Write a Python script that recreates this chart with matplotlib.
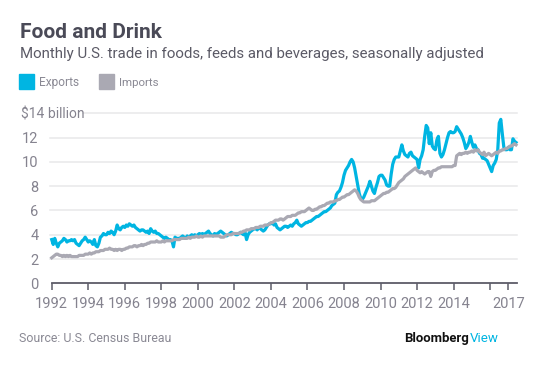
import numpy as np
import matplotlib
matplotlib.use("Agg")
import matplotlib.pyplot as plt

# ---------------- data (monthly, Jan 1992 - Jun 2017, $ billion) ----------------
start_year = 1992
exports = [
    3.6, 3.2, 3.7, 3.3, 3.0, 3.3, 3.4, 3.5, 3.7, 3.6, 3.4, 3.5,   # 1992
    3.5, 3.6, 3.5, 3.6, 3.3, 3.2, 3.1, 3.3, 3.5, 3.6, 3.8, 3.6,   # 1993
    3.4, 3.5, 3.4, 3.2, 3.6, 3.1, 3.0, 3.3, 3.8, 3.9, 4.1, 4.0,   # 1994
    4.0, 4.2, 4.1, 4.3, 4.2, 4.0, 4.3, 4.8, 4.5, 4.4, 4.6, 4.7,   # 1995
    4.6, 4.8, 4.7, 4.9, 4.8, 4.7, 4.8, 4.6, 4.5, 4.4, 4.3, 4.4,   # 1996
    4.4, 4.3, 4.2, 4.3, 4.1, 4.5, 4.3, 4.2, 4.3, 4.1, 4.1, 4.0,   # 1997
    3.9, 3.8, 3.7, 3.8, 3.7, 3.6, 3.6, 3.5, 3.0, 3.8, 3.7, 3.7,   # 1998
    3.7, 3.8, 3.9, 3.8, 3.7, 3.9, 3.8, 3.9, 4.0, 3.9, 4.0, 3.9,   # 1999
    4.0, 4.1, 4.0, 4.1, 4.0, 4.1, 4.2, 4.3, 4.1, 4.0, 3.9, 4.1,   # 2000
    4.0, 4.1, 4.2, 4.3, 4.2, 4.1, 4.0, 3.9, 4.0, 4.1, 4.2, 4.1,   # 2001
    4.1, 4.0, 4.0, 4.1, 4.2, 4.1, 4.0, 4.2, 3.6, 4.0, 4.2, 4.3,   # 2002
    4.4, 4.5, 4.5, 4.4, 4.6, 4.5, 4.4, 4.3, 4.4, 4.6, 4.8, 4.9,   # 2003
    4.9, 5.0, 4.8, 4.9, 4.6, 4.5, 4.4, 4.5, 4.6, 4.7, 4.7, 4.6,   # 2004
    4.7, 4.8, 4.7, 4.9, 5.0, 5.2, 4.9, 4.8, 4.7, 4.8, 4.9, 5.0,   # 2005
    5.0, 5.1, 5.1, 5.2, 5.3, 5.4, 5.5, 5.5, 5.6, 5.7, 5.8, 5.9,   # 2006
    5.9, 6.0, 6.1, 6.2, 6.4, 6.5, 6.6, 7.3, 7.5, 7.6, 7.9, 8.3,   # 2007
    8.9, 9.3, 9.5, 9.7, 10.0, 10.2, 10.0, 9.5, 8.8, 8.1, 7.4, 7.0,  # 2008
    6.9, 7.1, 7.4, 7.7, 8.0, 8.4, 8.0, 7.6, 7.4, 7.9, 8.3, 8.8,   # 2009
    8.9, 8.9, 8.7, 8.5, 8.1, 8.0, 8.0, 9.0, 9.8, 10.2, 10.4, 10.4,  # 2010
    10.4, 10.9, 11.4, 10.9, 10.6, 10.5, 10.4, 10.7, 10.8, 10.5, 10.4, 10.3,  # 2011
    10.2, 9.5, 10.2, 10.5, 11.0, 12.1, 13.0, 12.8, 11.5, 12.4, 11.3, 11.1,  # 2012
    11.0, 11.8, 12.1, 10.7, 10.4, 10.6, 11.0, 11.5, 12.0, 12.4, 12.5, 12.4,  # 2013
    12.4, 12.5, 12.9, 12.7, 12.5, 12.3, 12.0, 11.6, 11.1, 11.3, 11.6, 12.1,  # 2014
    11.6, 11.2, 11.4, 11.1, 11.0, 10.7, 10.6, 10.3, 10.3, 10.2, 10.1, 9.8,   # 2015
    9.5, 9.2, 9.7, 9.9, 10.2, 11.0, 13.2, 13.5, 12.3, 11.2, 11.0, 11.0,      # 2016
    11.2, 11.0, 11.0, 11.9, 11.7, 11.6,                                       # 2017
]
imports = [
    2.1, 2.2, 2.3, 2.4, 2.4, 2.3, 2.3, 2.2, 2.3, 2.2, 2.3, 2.2,   # 1992
    2.3, 2.2, 2.2, 2.2, 2.2, 2.2, 2.3, 2.3, 2.3, 2.3, 2.4, 2.4,   # 1993
    2.4, 2.5, 2.4, 2.5, 2.5, 2.6, 2.6, 2.6, 2.7, 2.7, 2.7, 2.8,   # 1994
    2.8, 2.8, 2.9, 2.8, 2.8, 2.7, 2.8, 2.7, 2.8, 2.8, 2.7, 2.8,   # 1995
    2.8, 2.9, 2.9, 3.0, 3.0, 3.0, 3.1, 3.1, 3.0, 3.1, 3.1, 3.2,   # 1996
    3.1, 3.2, 3.2, 3.3, 3.3, 3.4, 3.4, 3.4, 3.4, 3.5, 3.4, 3.4,   # 1997
    3.4, 3.5, 3.4, 3.5, 3.5, 3.5, 3.5, 3.5, 3.6, 3.6, 3.6, 3.6,   # 1998
    3.6, 3.7, 3.7, 3.7, 3.7, 3.7, 3.8, 3.7, 3.8, 3.8, 3.8, 3.9,   # 1999
    3.8, 3.8, 3.9, 3.8, 3.9, 3.9, 3.9, 3.9, 3.9, 3.9, 3.9, 3.9,   # 2000
    3.9, 3.9, 3.9, 3.8, 3.8, 3.8, 3.9, 4.0, 4.0, 4.0, 4.0, 4.1,   # 2001
    4.1, 4.1, 4.1, 4.1, 4.2, 4.2, 4.3, 4.3, 4.4, 4.4, 4.4, 4.5,   # 2002
    4.5, 4.5, 4.6, 4.6, 4.6, 4.7, 4.7, 4.7, 4.8, 4.8, 4.8, 4.9,   # 2003
    5.0, 5.0, 5.1, 5.2, 5.2, 5.2, 5.3, 5.3, 5.2, 5.3, 5.4, 5.5,   # 2004
    5.5, 5.5, 5.6, 5.6, 5.6, 5.7, 5.8, 5.8, 5.9, 5.9, 5.9, 6.0,   # 2005
    6.1, 6.2, 6.1, 6.0, 6.0, 6.1, 6.1, 6.2, 6.3, 6.3, 6.4, 6.4,   # 2006
    6.5, 6.6, 6.6, 6.7, 6.7, 6.7, 6.8, 6.8, 6.9, 6.9, 7.0, 7.1,   # 2007
    7.1, 7.2, 7.3, 7.3, 7.4, 7.5, 7.6, 7.7, 7.6, 7.4, 7.1, 6.9,   # 2008
    6.8, 6.7, 6.7, 6.7, 6.7, 6.7, 6.8, 6.8, 6.8, 6.9, 7.0, 7.1,   # 2009
    7.2, 7.3, 7.4, 7.4, 7.5, 7.5, 7.6, 7.7, 7.8, 7.8, 7.9, 8.1,   # 2010
    8.3, 8.4, 8.5, 8.6, 8.8, 8.9, 9.0, 9.1, 9.2, 9.3, 9.4, 9.5,   # 2011
    9.3, 9.2, 9.1, 9.2, 9.1, 9.0, 9.1, 9.2, 9.2, 8.8, 9.2, 9.3,   # 2012
    9.3, 9.4, 9.5, 9.5, 9.6, 9.6, 9.6, 9.6, 9.6, 9.6, 9.6, 9.6,   # 2013
    9.7, 9.7, 10.5, 10.6, 10.7, 10.6, 10.7, 10.7, 10.8, 10.7, 10.8, 10.8,  # 2014
    10.9, 10.8, 11.0, 10.9, 11.0, 10.8, 10.7, 10.6, 10.8, 10.5, 10.6, 10.7,  # 2015
    10.6, 10.5, 10.6, 10.7, 10.8, 10.7, 10.9, 10.9, 11.0, 11.0, 11.1, 11.1,  # 2016
    11.2, 11.3, 11.3, 11.4, 11.5, 11.4,                                       # 2017
]
y_ticks = [0, 2, 4, 6, 8, 10, 12]
top_label = "$14 billion"
x_ticks = [1992, 1994, 1996, 1998, 2000, 2002, 2004, 2006, 2008, 2010, 2012, 2014, 2016, 2017]
x_labels = ["1992", "1994", "1996", "1998", "2000", "2002", "2004", "2006",
            "2008", "2010", "2012", "2014", "", "2017"]
series_names = ["Exports", "Imports"]

# ---------------- style ----------------
W, H = 557, 366
DPI = 100
C_EXP = "#00b5e2"
C_IMP = "#aaa9b3"
C_TITLE = "#4a4a57"
C_SUB = "#5b5a66"
C_TICK = "#85838f"
C_GRID = "#e8e8ea"
C_AXIS = "#5d5c68"
FONT = "Roboto"

plt.rcParams["font.family"] = [FONT, "DejaVu Sans"]

fig = plt.figure(figsize=(W / DPI, H / DPI), dpi=DPI)
fig.patch.set_facecolor("white")

def fx(x):
    return x / W

def fy(y):
    return 1 - y / H

renderer = fig.canvas.get_renderer()

def fit_text(x, y, s, target_w, fs, **kw):
    t = fig.text(fx(x), fy(y), s, fontsize=fs, **kw)
    w = t.get_window_extent(renderer).width
    t.set_fontsize(fs * target_w / w)
    return t

# axes geometry (pixels)
ax_left, ax_right = 51.7, 517.0
ax_top, ax_bottom = 113.3, 283.3
ax = fig.add_axes([fx(ax_left), fy(ax_bottom), (ax_right - ax_left) / W,
                   (ax_bottom - ax_top) / H])
x0, x1 = 1992.0, 2017.47
ax.set_xlim(x0, x1)
ax.set_ylim(0, 14)

n = len(exports)
t = start_year + np.arange(n) / 12.0

# gridlines
for v in y_ticks[1:]:
    ax.axhline(v, color=C_GRID, lw=1.1, zorder=0, clip_on=False,
               xmin=-0.004, xmax=1.0)
# top gridline starts after the label
ax.axhline(14, color=C_GRID, lw=1.1, zorder=0, clip_on=False,
           xmin=(83 - ax_left) / (ax_right - ax_left), xmax=1.0)

ax.plot(t, exports, color=C_EXP, lw=2.3, solid_joinstyle="round", zorder=3, clip_on=False)
ax.plot(t[:len(imports)], imports, color=C_IMP, lw=2.3, solid_joinstyle="round", zorder=4, clip_on=False)

for sp in ["top", "right", "left"]:
    ax.spines[sp].set_visible(False)
ax.spines["bottom"].set_color(C_AXIS)
ax.spines["bottom"].set_linewidth(1.3)
ax.spines["bottom"].set_zorder(5)

ax.set_xticks(x_ticks)
ax.set_xticklabels(x_labels)
ax.tick_params(axis="x", direction="out", length=5, width=1.1, color=C_AXIS,
               labelcolor=C_TICK, labelsize=10.5, pad=5)
ax.set_yticks(y_ticks)
ax.set_yticklabels([str(v) for v in y_ticks])
ax.tick_params(axis="y", length=0, labelcolor=C_TICK, labelsize=10.5, pad=9.5)

# top y label
fig.text(fx(21), fy(114), top_label, fontsize=10, color=C_TICK, va="center", ha="left")

# title, subtitle
fit_text(20, 37.7, "Food and Drink", 142, 14, color=C_TITLE, fontweight="bold",
         va="baseline", ha="left")
fit_text(20, 57.7, "Monthly U.S. trade in foods, feeds and beverages, seasonally adjusted",
         464, 11, color=C_SUB, va="baseline", ha="left")

# legend
fig.patches.append(plt.Rectangle((fx(19), fy(89)), 15 / W, 15 / H, color=C_EXP,
                                 transform=fig.transFigure, figure=fig))
fig.patches.append(plt.Rectangle((fx(99), fy(89)), 15 / W, 15 / H, color=C_IMP,
                                 transform=fig.transFigure, figure=fig))
fit_text(39, 86, series_names[0], 40, 9, color="#8a8994", va="baseline", ha="left")
fit_text(119, 86, series_names[1], 40, 9, color="#8a8994", va="baseline", ha="left")

# footer
fit_text(19, 342, "Source: U.S. Census Bureau", 153, 9, color="#8a8994",
         va="baseline", ha="left")
tb = fit_text(404, 342, "Bloomberg", 65, 10, color="#111111", fontweight="bold",
              va="baseline", ha="left")
fit_text(470, 342, "View", 29, 10, color=C_EXP, va="baseline", ha="left")

fig.savefig("out.png", dpi=DPI, facecolor="white")
